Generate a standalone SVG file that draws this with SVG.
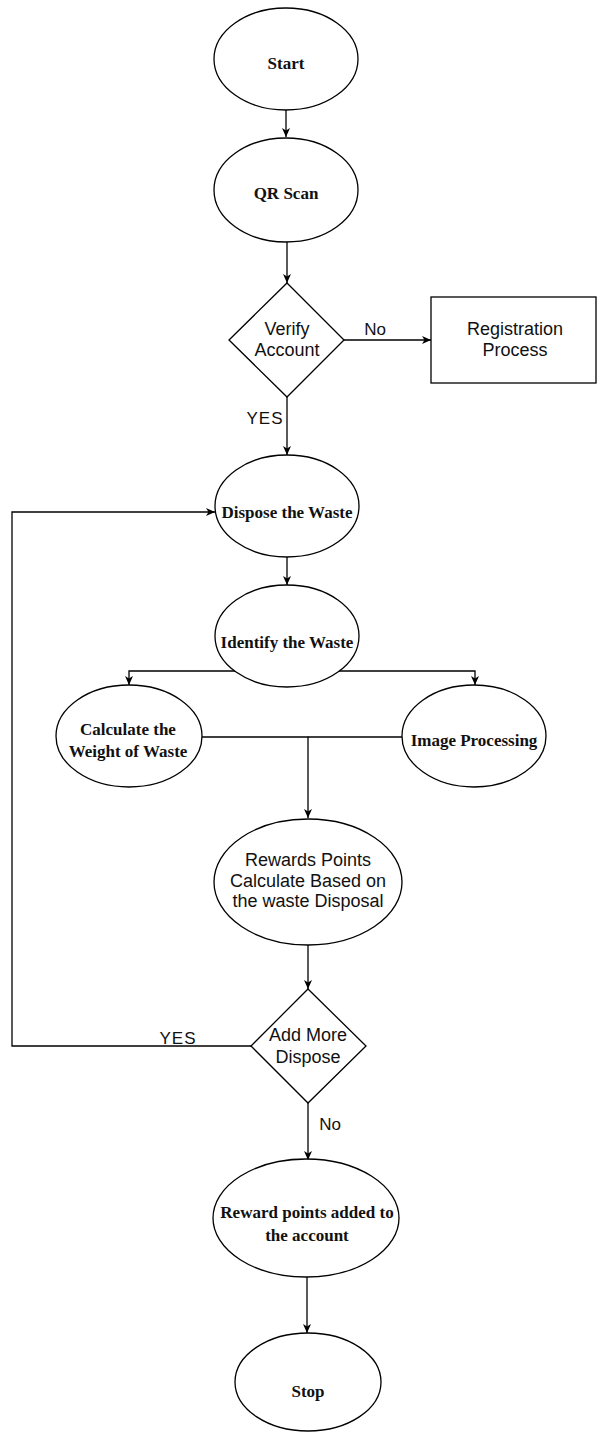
<svg xmlns="http://www.w3.org/2000/svg" width="597" height="1432" viewBox="0 0 597 1432">
<style>
.shape{fill:#fff;stroke:#000;stroke-width:1.3}
.serif{font-family:"Liberation Serif","Times New Roman",serif;font-weight:bold;font-size:17px;fill:#111;text-anchor:middle}
.sans{font-family:"Liberation Sans",Arial,sans-serif;font-size:18px;fill:#111;text-anchor:middle}
.lbl{font-family:"Liberation Sans",Arial,sans-serif;font-size:17px;fill:#111;text-anchor:middle}
.conn{fill:none;stroke:#000;stroke-width:1.3}
</style>
<defs>
<marker id="arr" markerWidth="10" markerHeight="10" refX="9" refY="5" orient="auto" markerUnits="userSpaceOnUse">
<path d="M0,1 L9,5 L0,9 L2.5,5 Z" fill="#000"/>
</marker>
</defs>
<rect width="597" height="1432" fill="#fff"/>
<g id="connectors">
<path class="conn" d="M286 110 V137" marker-end="url(#arr)"/>
<path class="conn" d="M287 242 V283" marker-end="url(#arr)"/>
<path class="conn" d="M344 340 H431" marker-end="url(#arr)"/>
<path class="conn" d="M287 397 V455" marker-end="url(#arr)"/>
<path class="conn" d="M287 557 V585" marker-end="url(#arr)"/>
<path class="conn" d="M235 671 H129 V685" marker-end="url(#arr)"/>
<path class="conn" d="M339 671 H475 V685" marker-end="url(#arr)"/>
<path class="conn" d="M202 737 H308 V818" marker-end="url(#arr)"/>
<path class="conn" d="M402 737 H308"/>
<path class="conn" d="M308 945 V989" marker-end="url(#arr)"/>
<path class="conn" d="M251 1046 H12 V512 H215" marker-end="url(#arr)"/>
<path class="conn" d="M308 1103 V1160" marker-end="url(#arr)"/>
<path class="conn" d="M307 1277 V1333" marker-end="url(#arr)"/>
<text class="lbl" x="375" y="335">No</text>
<text class="lbl" x="265" y="424" letter-spacing="1">YES</text>
<text class="lbl" x="178" y="1044" letter-spacing="1">YES</text>
<text class="lbl" x="330" y="1130">No</text>
</g>
<g id="start">
<ellipse class="shape" cx="286" cy="59" rx="72" ry="51"/>
<text class="serif" x="286" y="69">Start</text>
</g>
<g id="qr-scan">
<ellipse class="shape" cx="286" cy="190" rx="72" ry="52"/>
<text class="serif" x="286" y="199">QR Scan</text>
</g>
<g id="verify-account">
<polygon class="shape" points="287,283 344,340 287,397 229,340"/>
<text class="sans" x="287" y="335">Verify</text>
<text class="sans" x="287" y="356">Account</text>
</g>
<g id="registration">
<rect class="shape" x="431" y="297" width="165" height="86"/>
<text class="sans" x="515" y="335">Registration</text>
<text class="sans" x="515" y="356">Process</text>
</g>
<g id="dispose">
<ellipse class="shape" cx="287" cy="506" rx="72" ry="51"/>
<text class="serif" x="287" y="518">Dispose the Waste</text>
</g>
<g id="identify">
<ellipse class="shape" cx="287" cy="636" rx="72" ry="51"/>
<text class="serif" x="287" y="648">Identify the Waste</text>
</g>
<g id="calculate-weight">
<ellipse class="shape" cx="129" cy="736" rx="73" ry="51"/>
<text class="serif" x="128" y="735">Calculate the</text>
<text class="serif" x="128" y="757">Weight of Waste</text>
</g>
<g id="image-processing">
<ellipse class="shape" cx="474" cy="736" rx="72" ry="51"/>
<text class="serif" x="474" y="746">Image Processing</text>
</g>
<g id="rewards-calc">
<ellipse class="shape" cx="308" cy="882" rx="94" ry="63"/>
<text class="sans" x="308" y="866">Rewards Points</text>
<text class="sans" x="308" y="887">Calculate Based on</text>
<text class="sans" x="308" y="907">the waste Disposal</text>
</g>
<g id="add-more">
<polygon class="shape" points="308,989 366,1046 308,1103 251,1046"/>
<text class="sans" x="308" y="1041">Add More</text>
<text class="sans" x="308" y="1063">Dispose</text>
</g>
<g id="reward-added">
<ellipse class="shape" cx="306" cy="1218" rx="93" ry="59"/>
<text class="serif" x="307" y="1218">Reward points added to</text>
<text class="serif" x="307" y="1241">the account</text>
</g>
<g id="stop">
<ellipse class="shape" cx="308" cy="1382" rx="73" ry="49"/>
<text class="serif" x="308" y="1397">Stop</text>
</g>
</svg>
